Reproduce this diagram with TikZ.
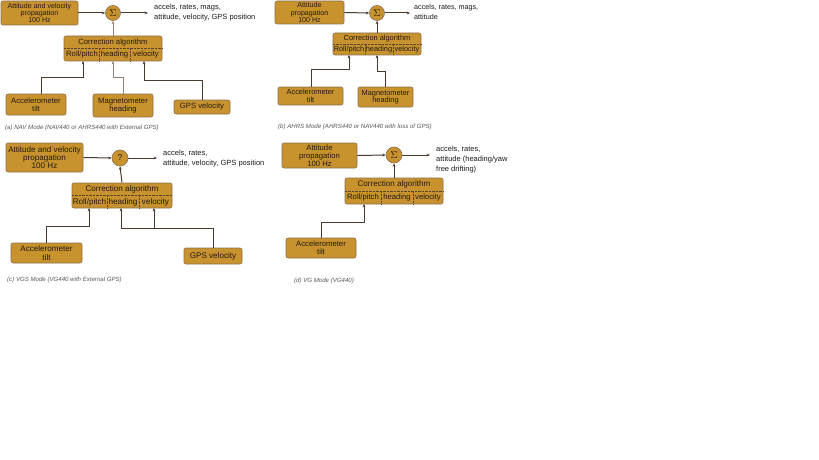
\documentclass[tikz,border=0pt]{standalone}
\usepackage{fontspec}
\setmainfont{Liberation Sans}
\usetikzlibrary{arrows.meta}
\definecolor{gold}{RGB}{200,146,46}
\definecolor{goldedge}{RGB}{140,112,78}
\definecolor{lnk}{RGB}{70,58,50}
\definecolor{lnklight}{RGB}{145,130,120}
\definecolor{boxtxt}{RGB}{35,27,20}
\definecolor{captxt}{RGB}{85,85,85}
\definecolor{dotc}{RGB}{90,70,45}
\tikzset{
  blk/.style={rectangle, rounded corners=2pt, fill=gold, draw=goldedge, line width=0.6pt, inner sep=0pt, align=center, text=boxtxt},
  f7/.style={font=\fontsize{7.1}{7.1}\selectfont},
  f73/.style={font=\fontsize{7.4}{7.4}\selectfont},
  f75/.style={font=\fontsize{7.7}{7.8}\selectfont},
  f8/.style={font=\fontsize{8.1}{8.3}\selectfont},
  sumc/.style={circle, fill=gold, draw=goldedge, line width=0.6pt, inner sep=0pt, text=boxtxt},
  outtxt/.style={anchor=west, align=left, inner sep=0pt, font=\fontsize{7.5}{10}\selectfont, text=black!90},
  captn/.style={anchor=west, inner sep=0pt, font=\fontsize{6.1}{6}\itshape, text=captxt},
  lbl/.style={inner sep=0pt, text=boxtxt},
  conn/.style={draw=lnk, line width=1pt, -{Stealth[length=3.4pt,width=2.8pt]}},
  connl/.style={draw=lnklight, line width=1pt, -{Stealth[length=3.4pt,width=2.8pt]}},
  dotl/.style={draw=dotc, line width=0.4pt, densely dotted},
}
\begin{document}
\begin{tikzpicture}[x=1pt,y=-1pt]
\useasboundingbox (0,0) rectangle (819,460);

% ================= Panel (a) =================
\node[blk,f7,minimum width=77pt,minimum height=24pt] (propA) at (39.5,13) {Attitude and velocity\\propagation\\100 Hz};
\node[sumc,minimum size=15pt,font=\fontsize{10}{10}\selectfont] (sigA) at (113,13) {$\Sigma$};
\node[outtxt] (outA) at (154,12.5) {accels, rates, mags,\\attitude, velocity, GPS position};
\coordinate (eA) at (148,13);
\draw[conn] (propA.east) -- (sigA.west);
\draw[conn] (sigA.east) -- (eA);
\node[blk,minimum width=98pt,minimum height=25pt] (corrA) at (113,48.5) {};
\draw[dotl] (corrA.west |- 0,48) -- (corrA.east |- 0,48);
\draw[dotl] (99,48) -- (99,61);
\draw[dotl] (130,48) -- (130,61);
\node[lbl,f75] (corrAt) at (113,42.5) {Correction algorithm};
\node[lbl,f75] (corrA1) at (82,55) {Roll/pitch};
\node[lbl,f75] (corrA2) at (114.5,55) {heading};
\node[lbl,f75] (corrA3) at (146,55) {velocity};
\draw[connl] (corrA.north) -- (sigA.south);
\node[blk,f75,minimum width=60pt,minimum height=21pt] (accA) at (36,104.5) {Accelerometer\\tilt};
\node[blk,f75,minimum width=60pt,minimum height=23pt] (magA) at (123,105.5) {Magnetometer\\heading};
\node[blk,f75,minimum width=56pt,minimum height=14pt] (gpsA) at (202,107) {GPS velocity};
\coordinate (bA1) at (41,77); \coordinate (tA1) at (83,61);
\coordinate (bA2) at (123,77); \coordinate (tA2) at (113,61);
\coordinate (bA3) at (202,80); \coordinate (tA3) at (144,61);
\draw[conn] (accA.north -| bA1) -- (bA1) -| (tA1);
\draw[connl] (magA.north -| bA2) -- (bA2) -| (tA2);
\draw[conn] (gpsA.north -| bA3) -- (bA3) -| (tA3);
\node[captn] (capA) at (5,128) {(a) NAV Mode (NAV440 or AHRS440 with External GPS)};

% ================= Panel (b) =================
\node[blk,f7,minimum width=69pt,minimum height=23pt] (propB) at (309.5,12.5) {Attitude\\propagation\\100 Hz};
\node[sumc,minimum size=15pt,font=\fontsize{10}{10}\selectfont] (sigB) at (377,13) {$\Sigma$};
\node[outtxt,font=\fontsize{7.2}{9.5}\selectfont] (outB) at (414,12) {accels, rates, mags,\\attitude};
\coordinate (eB) at (410,13);
\draw[conn] (propB.east) -- (sigB.west);
\draw[conn] (sigB.east) -- (eB);
\node[blk,minimum width=88pt,minimum height=22pt] (corrB) at (377,44) {};
\draw[dotl] (corrB.west |- 0,44) -- (corrB.east |- 0,44);
\draw[dotl] (365,44) -- (365,55);
\draw[dotl] (393,44) -- (393,55);
\node[lbl,f73] (corrBt) at (377,38.5) {Correction algorithm};
\node[lbl,f73] (corrB1) at (349,50) {Roll/pitch};
\node[lbl,f73] (corrB2) at (379,50) {heading};
\node[lbl,f73] (corrB3) at (407,50) {velocity};
\draw[conn] (corrB.north) -- (sigB.south);
\node[blk,f73,minimum width=65pt,minimum height=18pt] (accB) at (310.5,96) {Accelerometer\\tilt};
\node[blk,f73,minimum width=55pt,minimum height=20pt] (magB) at (385.5,97) {Magnetometer\\heading};
\coordinate (bB1) at (311,70); \coordinate (tB1) at (349,55);
\coordinate (bB2) at (385,72); \coordinate (tB2) at (377,55);
\draw[conn] (accB.north -| bB1) -- (bB1) -| (tB1);
\draw[conn] (magB.north -| bB2) -- (bB2) -| (tB2);
\node[captn] (capB) at (278,127) {(b) AHRS Mode (AHRS440 or NAV440 with loss of GPS)};

% ================= Panel (c) =================
\node[blk,f8,minimum width=77pt,minimum height=29pt] (propC) at (44.5,157.5) {Attitude and velocity\\propagation\\100 Hz};
\node[sumc,minimum size=16pt,font=\fontsize{8.5}{8}\selectfont] (qC) at (120,158) {?};
\node[outtxt] (outC) at (163,159) {accels, rates,\\attitude, velocity, GPS position};
\coordinate (eC) at (157,158);
\draw[conn] (propC.east) -- (qC.west);
\draw[conn] (qC.east) -- (eC);
\node[blk,minimum width=100pt,minimum height=25pt] (corrC) at (122,195.5) {};
\draw[dotl] (corrC.west |- 0,195) -- (corrC.east |- 0,195);
\draw[dotl] (107,195) -- (107,208);
\draw[dotl] (139,195) -- (139,208);
\node[lbl,f8] (corrCt) at (122,189) {Correction algorithm};
\node[lbl,f8] (corrC1) at (89.5,202) {Roll/pitch};
\node[lbl,f8] (corrC2) at (123,202) {heading};
\node[lbl,f8] (corrC3) at (155.5,202) {velocity};
\draw[conn] (corrC.north) -- (qC.south);
\node[blk,f8,minimum width=71pt,minimum height=20pt] (accC) at (46.5,253) {Accelerometer\\tilt};
\node[blk,f8,minimum width=58pt,minimum height=16pt] (gpsC) at (213,256) {GPS velocity};
\coordinate (bC1) at (46,226); \coordinate (tC1) at (89,208);
\coordinate (bC2) at (213,228); \coordinate (jC) at (154,228);
\coordinate (tC2) at (121,208); \coordinate (tC3) at (154,208);
\draw[conn] (accC.north -| bC1) -- (bC1) -| (tC1);
\draw[conn] (gpsC.north -| bC2) -- (bC2) -| (tC2);
\draw[conn] (jC) -- (tC3);
\node[captn] (capC) at (7,280) {(c) VGS Mode (VG440 with External GPS)};

% ================= Panel (d) =================
\node[blk,f75,minimum width=75pt,minimum height=25pt] (propD) at (319.5,155.5) {Attitude\\propagation\\100 Hz};
\node[sumc,minimum size=16pt,font=\fontsize{10}{10}\selectfont] (sigD) at (394,155) {$\Sigma$};
\node[outtxt,anchor=north west] (outD) at (436,146) {accels, rates,\\attitude (heading/yaw\\free drifting)};
\coordinate (eD) at (430,155);
\draw[conn] (propD.east) -- (sigD.west);
\draw[conn] (sigD.east) -- (eD);
\node[blk,minimum width=98pt,minimum height=26pt] (corrD) at (394,191) {};
\draw[dotl] (corrD.west |- 0,191) -- (corrD.east |- 0,191);
\draw[dotl] (381,191) -- (381,204);
\draw[dotl] (413,191) -- (413,204);
\node[lbl,f8] (corrDt) at (394,184.5) {Correction algorithm};
\node[lbl,f75] (corrD1) at (363,197.5) {Roll/pitch};
\node[lbl,f75] (corrD2) at (397,197.5) {heading};
\node[lbl,f75] (corrD3) at (428,197.5) {velocity};
\draw[conn] (corrD.north) -- (sigD.south);
\node[blk,f75,minimum width=70pt,minimum height=20pt] (accD) at (321,248) {Accelerometer\\tilt};
\coordinate (bD1) at (321,222); \coordinate (tD1) at (364,204);
\draw[conn] (accD.north -| bD1) -- (bD1) -| (tD1);
\node[captn] (capD) at (294,281) {(d) VG Mode (VG440)};
\end{tikzpicture}
\end{document}
